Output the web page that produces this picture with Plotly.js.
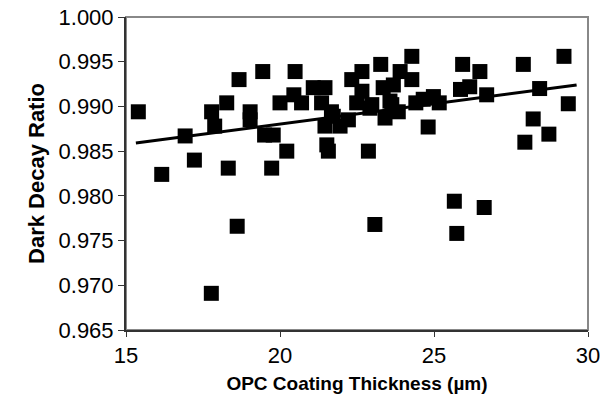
<!DOCTYPE html>
<html>
<head>
<meta charset="utf-8">
<script src="https://cdn.plot.ly/plotly-3.0.1.min.js"></script>
<style>html,body{margin:0;padding:0;background:#fff;}#chart{width:615px;height:408px;}</style>
</head>
<body>
<div id="chart"></div>
<script>
// OPC coating thickness (µm)
const thickness = [
  15.40, 16.16, 16.92, 17.22, 17.78, 17.88, 18.27, 18.32, 18.67, 18.61,
  17.77, 19.03, 19.03, 19.44, 19.50, 19.78, 19.73, 20.00, 20.22, 20.49,
  20.45, 20.70, 21.08, 21.46, 21.35, 21.67, 21.46, 21.95, 22.22, 21.52,
  21.57, 22.33, 22.66, 22.49, 22.66, 22.92, 22.87, 23.27, 23.35, 23.68,
  23.41, 23.63, 23.90, 24.28, 24.28, 24.98, 25.17, 24.41, 23.84, 24.81,
  23.08, 25.66, 26.63, 25.74, 25.93, 26.49, 25.86, 26.16, 26.71, 27.90,
  29.22, 28.43, 29.36, 28.22, 28.73, 27.95, 23.57, 22.98, 24.65, 21.73
];
// Dark decay ratio
const darkDecay = [
  0.9894, 0.9824, 0.9867, 0.9840, 0.9894, 0.9878, 0.9904, 0.9831, 0.9930, 0.9766,
  0.9691, 0.9894, 0.9885, 0.9939, 0.9868, 0.9868, 0.9831, 0.9904, 0.9850, 0.9939,
  0.9913, 0.9904, 0.9921, 0.9921, 0.9904, 0.9894, 0.9878, 0.9878, 0.9885, 0.9857,
  0.9850, 0.9930, 0.9939, 0.9904, 0.9917, 0.9898, 0.9850, 0.9947, 0.9921, 0.9924,
  0.9887, 0.9902, 0.9939, 0.9956, 0.9930, 0.9911, 0.9904, 0.9904, 0.9894, 0.9877,
  0.9768, 0.9794, 0.9787, 0.9758, 0.9947, 0.9939, 0.9919, 0.9922, 0.9913, 0.9947,
  0.9956, 0.9920, 0.9903, 0.9886, 0.9869, 0.9860, 0.9906, 0.9902, 0.9908, 0.9889
];
// Linear trendline (endpoints)
const trendX = [15.32, 29.63];
const trendY = [0.9859, 0.9924];

const xTicks = [15, 20, 25, 30];
const yTicks = [0.965, 0.970, 0.975, 0.980, 0.985, 0.990, 0.995, 1.000];

const FONT = 'Liberation Sans, Arial, sans-serif';

const data = [
  {
    x: thickness, y: darkDecay, type: 'scatter', mode: 'markers',
    marker: {symbol: 'square', size: 15, color: '#000000', line: {width: 0}},
    hoverinfo: 'x+y'
  },
  {
    x: trendX, y: trendY, type: 'scatter', mode: 'lines',
    line: {color: '#000000', width: 3}, hoverinfo: 'skip'
  }
];

const layout = {
  width: 615, height: 408,
  margin: {l: 126, r: 27, t: 17, b: 78},
  paper_bgcolor: '#ffffff', plot_bgcolor: '#ffffff',
  showlegend: false,
  font: {family: FONT, color: '#000000', size: 22},
  xaxis: {
    range: [15, 30], tickvals: xTicks, ticktext: xTicks.map(String),
    showgrid: false, zeroline: false,
    showline: true, linecolor: '#333333', linewidth: 2,
    ticks: 'outside', ticklen: 5, tickcolor: '#333333', tickwidth: 1,
    tickfont: {size: 22, family: FONT},
    title: {text: 'OPC Coating Thickness (µm)', font: {size: 19, family: FONT, weight: 'bold'}, standoff: 9}
  },
  yaxis: {
    range: [0.965, 1.000], tickvals: yTicks, ticktext: yTicks.map(v => v.toFixed(3)),
    showgrid: false, zeroline: false,
    showline: true, linecolor: '#333333', linewidth: 2,
    ticks: 'outside', ticklen: 6, tickcolor: '#333333', tickwidth: 1,
    tickfont: {size: 22, family: FONT},
    title: {text: 'Dark Decay Ratio', font: {size: 22, family: FONT, weight: 'bold'}, standoff: 8}
  },
  shapes: [
    {type: 'rect', xref: 'paper', yref: 'paper', x0: 0, x1: 1, y0: 0, y1: 1,
     line: {color: '#888888', width: 2}, layer: 'below'}
  ]
};

Plotly.newPlot('chart', data, layout, {displayModeBar: false, staticPlot: true});
</script>
</body>
</html>
